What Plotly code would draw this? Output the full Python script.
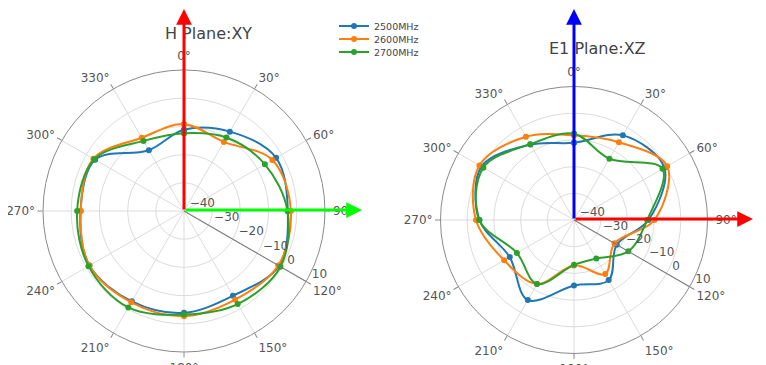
import plotly.graph_objects as go

# ---------------- data ----------------
theta_deg = [0, 30, 60, 90, 120, 150, 180, 210, 240, 270, 300, 330]
series_names = ["2500MHz", "2600MHz", "2700MHz"]
series_colors = ["#1f77b4", "#ff7f0e", "#2ca02c"]

# H Plane : XY (dB)
h_2500 = [-11.2, -7.5, -2.3, -3.2, -1.1, -5.3, -3.9, -3.0, -1.3, -3.3, -3.6, -15.1]
h_2600 = [-9.2, -11.7, -3.8, -2.1, -1.4, -3.7, -2.7, -2.6, -1.3, -3.4, -2.9, -10.0]
h_2700 = [-12.4, -9.9, -6.9, -3.3, -0.5, -1.9, -3.3, -0.5, -0.9, -2.1, -3.3, -11.3]

# E1 Plane : XZ (dB)
e_2500 = [-11.1, -3.4, -0.9, -12.1, -21.5, -14.0, -15.5, -5.4, -12.2, -4.6, 0.0, -7.4]
e_2600 = [-8.3, -6.4, 0.3, -9.9, -22.5, -16.6, -23.0, -12.3, -9.8, -3.3, 0.9, -4.0]
e_2700 = [-7.7, -13.5, -1.7, -12.6, -16.5, -23.3, -23.2, -12.3, -15.3, -4.5, -0.8, -7.2]

radial_range = [-40, 10]
titles = ["H Plane:XY", "E1 Plane:XZ"]

W, H = 766, 365
OFF = 8  # page body margin
FONT = "DejaVu Sans"


def px(x):
    return (x - OFF) / W


def py(y):
    return 1 - (y - OFF) / H


def closed(v):
    return list(v) + [v[0]]


theta_closed = closed(theta_deg)

fig = go.Figure()
legend_ids = ["legend", "legend2", "legend3"]
for polar_id, data in (("polar", [h_2500, h_2600, h_2700]),
                       ("polar2", [e_2500, e_2600, e_2700])):
    for i, (name, color, vals) in enumerate(zip(series_names, series_colors, data)):
        fig.add_trace(go.Scatterpolar(
            r=closed(vals), theta=theta_closed, name=name,
            mode="lines+markers",
            line=dict(color=color, width=2, shape="spline"),
            marker=dict(color=color, size=6),
            subplot=polar_id,
            legendgroup=name,
            legend=legend_ids[i],
            showlegend=(polar_id == "polar"),
        ))


def polar_layout(xd, yd):
    return dict(
        domain=dict(x=xd, y=yd),
        bgcolor="white",
        angularaxis=dict(
            rotation=90, direction="clockwise", tickmode="linear", dtick=30,
            showline=True, linecolor="#8a8a8a", linewidth=1,
            gridcolor="#dcdcdc", ticks="outside", ticklen=5, tickcolor="#8a8a8a",
            tickfont=dict(family=FONT, size=12, color="#555"),
        ),
        radialaxis=dict(
            range=radial_range, tickmode="linear", tick0=0, dtick=10,
            angle=-30, tickangle=-30, side="counterclockwise",
            showline=True, linecolor="#7a7a7a",
            gridcolor="#dcdcdc", ticks="",
            tickfont=dict(family=FONT, size=12, color="#555"),
        ),
    )


# left circle: centre (184, 211) r 141 ; right: centre (574, 220) r 133.5
fig.update_layout(
    width=W, height=H,
    margin=dict(l=0, r=0, t=0, b=0),
    paper_bgcolor="white",
    font=dict(family=FONT, color="#444"),
    polar=polar_layout([px(184 - 141), px(184 + 141)], [py(211 + 141), py(211 - 141)]),
    polar2=polar_layout([px(574 - 133.5), px(574 + 133.5)], [py(220 + 133.5), py(220 - 133.5)]),
)

legend_rows = [26, 39, 52]
for lid, yrow in zip(legend_ids, legend_rows):
    fig.update_layout({lid: dict(
        x=px(334), xanchor="left", y=py(yrow), yanchor="middle",
        bgcolor="rgba(0,0,0,0)", font=dict(family=FONT, size=9.5, color="#444"),
        itemclick=False,
    )})

annotations = [
    dict(text=titles[0], x=px(209), y=py(33), xref="paper", yref="paper",
         xanchor="center", yanchor="middle",
         showarrow=False, font=dict(family=FONT, size=16, color="#444")),
    dict(text=titles[1], x=px(597), y=py(49), xref="paper", yref="paper",
         xanchor="center", yanchor="middle",
         showarrow=False, font=dict(family=FONT, size=16, color="#444")),
]


def arrow(x0, y0, x1, y1, color):
    return dict(x=px(x1), y=py(y1), xref="paper", yref="paper",
                ax=x0 - x1, ay=y0 - y1, axref="pixel", ayref="pixel",
                showarrow=True, arrowhead=2, arrowwidth=3, arrowsize=1.05,
                arrowcolor=color, standoff=0, text="")


annotations += [
    arrow(184, 211, 184, 1, "#ff0000"),
    arrow(184, 210, 362, 210, "#00ff00"),
    arrow(574, 220, 574, 7, "#0000ff"),
    arrow(574, 219, 753, 219, "#ff0000"),
]
fig.update_layout(annotations=annotations)

fig.write_html("out.html")
